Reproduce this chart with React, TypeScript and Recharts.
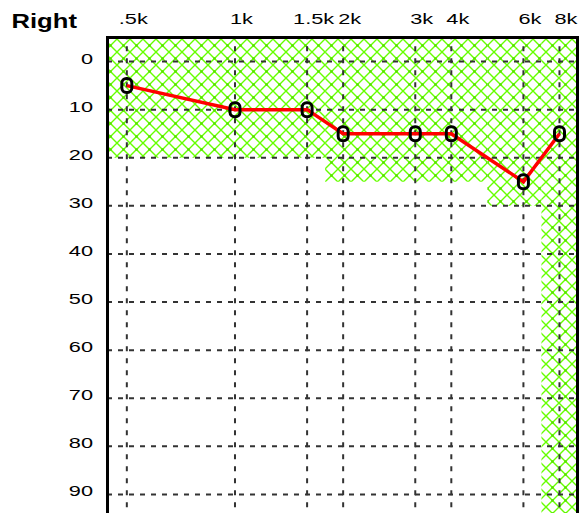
import { LineChart, Line, XAxis, YAxis, ReferenceArea, ReferenceLine } from 'recharts';

const freqLabels = ['.5k', '1k', '1.5k', '2k', '3k', '4k', '6k', '8k'];
// audiogram column positions (half-octaves sit 2/3 of the way along)
const freqPos = [0, 3, 5, 6, 8, 9, 11, 12];
const thresholds = [5, 10, 10, 15, 15, 15, 25, 15];
const levels = [0, 10, 20, 30, 40, 50, 60, 70, 80, 90];

// normal-range band (green hatch), stepped by frequency
const bandFrom = [-0.55, 5.5, 10, 11.5];
const bandTo = [5.5, 10, 11.5, 12.5];
const bandDepth = [20, 25, 30, 95];

const data = freqPos.map((pos, i) => ({ pos, label: freqLabels[i], db: thresholds[i] }));

const FONT = 'Liberation Sans, Arial, sans-serif';

function FreqTick(props: any) {
  const { x, payload } = props;
  const idx = freqPos.indexOf(payload.value);
  return (
    <text
      transform={`translate(${x + 6.5},23.5) scale(1.45,1)`}
      textAnchor="middle"
      fontSize={15}
      fontFamily={FONT}
      fill="#000"
    >
      {freqLabels[idx]}
    </text>
  );
}

function LevelTick(props: any) {
  const { y, payload } = props;
  return (
    <text
      transform={`translate(93,${y + 2}) scale(1.45,1)`}
      textAnchor="end"
      fontSize={15}
      fontFamily={FONT}
      fill="#000"
    >
      {payload.value}
    </text>
  );
}

function Mark(props: any) {
  const { cx, cy } = props;
  return (
    <rect
      x={cx - 5}
      y={cy - 7}
      width={10}
      height={14}
      rx={4.5}
      fill="none"
      stroke="#000"
      strokeWidth={3}
    />
  );
}

export default function App() {
  return (
    <div
      style={{
        position: 'absolute',
        left: 0,
        top: 0,
        width: 579,
        height: 513,
        overflow: 'hidden',
        background: '#fff',
      }}
    >
      <LineChart
        width={579}
        height={519}
        data={data}
        margin={{ top: 7.5, right: 1.5, left: 0, bottom: 0.5 }}
      >
        <defs>
          <pattern id="hatch" patternUnits="userSpaceOnUse" width={13} height={13}>
            <path d="M0,0 L13,13 M13,0 L0,13" stroke="#66ff00" strokeWidth={1.4} />
            <circle cx={6.5} cy={6.5} r={1.3} fill="#55dd00" />
          </pattern>
        </defs>
        <text
          transform="translate(11.5,28.3) scale(1.22,1)"
          fontSize={21}
          fontWeight="bold"
          fontFamily={FONT}
          fill="#000"
        >
          Right
        </text>
        <XAxis
          dataKey="pos"
          type="number"
          orientation="top"
          domain={[-0.55, 12.5]}
          ticks={freqPos}
          interval={0}
          height={30}
          axisLine={false}
          tickLine={false}
          tick={<FreqTick />}
          allowDataOverflow
        />
        <YAxis
          type="number"
          domain={[-5, 95]}
          reversed
          ticks={levels}
          interval={0}
          width={107}
          axisLine={false}
          tickLine={false}
          tick={<LevelTick />}
          allowDataOverflow
        />
        {bandFrom.map((x1, i) => (
          <ReferenceArea
            key={'band' + i}
            x1={x1}
            x2={bandTo[i]}
            y1={-5}
            y2={bandDepth[i]}
            fill="url(#hatch)"
            fillOpacity={1}
            stroke="none"
          />
        ))}
        {levels.map((v) => (
          <ReferenceLine
            key={'h' + v}
            y={v}
            stroke="#333"
            strokeWidth={2}
            strokeDasharray="5 6"
          />
        ))}
        {freqPos.map((v) => (
          <ReferenceLine
            key={'v' + v}
            x={v}
            stroke="#333"
            strokeWidth={2}
            strokeDasharray="5 7"
            strokeDashoffset={3.3}
          />
        ))}
        <Line
          dataKey="db"
          stroke="#ff0000"
          strokeWidth={3.5}
          dot={(p: any) => <Mark key={p.index} {...p} />}
          activeDot={false}
          isAnimationActive={false}
        />
      </LineChart>
      {/* plot frame: top, left and right edges (bottom falls outside the picture) */}
      <div
        style={{
          position: 'absolute',
          left: 105.5,
          top: 36,
          width: 473.5,
          height: 500,
          boxSizing: 'border-box',
          borderTop: '3px solid #000',
          borderLeft: '3px solid #000',
          borderRight: '3px solid #000',
          pointerEvents: 'none',
        }}
      />
    </div>
  );
}
